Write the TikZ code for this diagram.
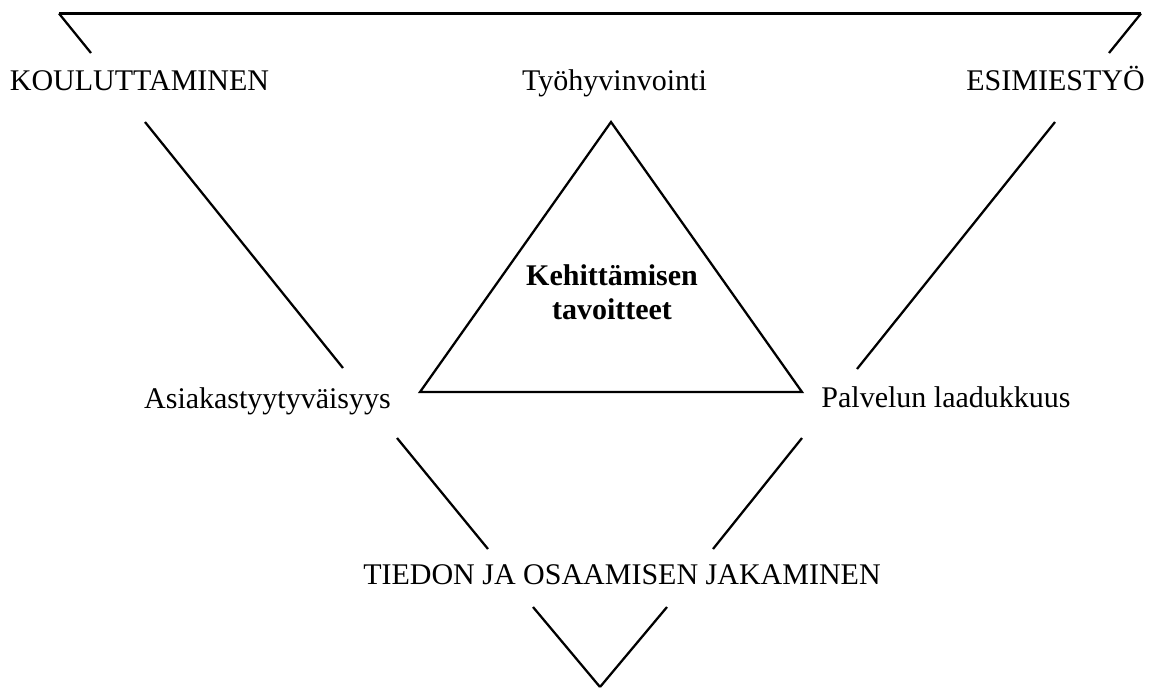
\documentclass[tikz,border=0pt]{standalone}
\usepackage{fontspec}
\setmainfont{Liberation Serif}
\begin{document}
\begin{tikzpicture}[x=0.75pt,y=-0.75pt,
  lbl/.style={font=\fontsize{22.5}{25.5}\selectfont, inner sep=0pt},
  goal/.style={font=\fontsize{22.5}{25.5}\selectfont\bfseries, inner sep=0pt, align=center},
  side/.style={line width=1.7pt}]
\useasboundingbox (0,0) rectangle (1160,687);

% labels on the large inverted triangle
\node[lbl,anchor=base] (kou) at (139.5,90) {KOULUTTAMINEN};
\node[lbl,anchor=base] (tyo) at (614.5,90) {Työhyvinvointi};
\node[lbl,anchor=base east] (esi) at (1145,90) {ESIMIESTYÖ};
\node[lbl,anchor=base] (asi) at (267.5,408) {Asiakastyytyväisyys};
\node[lbl,anchor=base] (pal) at (946,407) {Palvelun laadukkuus};
\node[lbl,anchor=base] (tie) at (622,584) {TIEDON JA OSAAMISEN JAKAMINEN};

% inner triangle with its title (base anchor sits on the last line)
\node[goal,anchor=base] (keh) at (612,319) {Kehittämisen\\tavoitteet};
\coordinate (ia) at (611,122);
\coordinate (il) at (420,392);
\coordinate (ir) at (802,392);
\draw[side] (ia) -- (il) -- (ir) -- cycle;

% corners of the large triangle
\coordinate (tl) at (59,13.5);
\coordinate (tr) at (1141,13.5);
\coordinate (bv) at (600,687);

% left side, broken around the labels
\coordinate (l1) at (91,53);
\coordinate (l2) at (145,122);
\coordinate (l3) at (343,368);
\coordinate (l4) at (397,438);
\coordinate (l5) at (488,549);
\coordinate (l6) at (533,607);

% right side, broken around the labels
\coordinate (r1) at (1109,53);
\coordinate (r2) at (1055,122);
\coordinate (r3) at (857,369);
\coordinate (r4) at (802,438);
\coordinate (r5) at (713,549);
\coordinate (r6) at (667,607);

\draw[side] (tl) -- (tr);
\draw[side] (tl) -- (l1);
\draw[side] (l2) -- (l3);
\draw[side] (l4) -- (l5);
\draw[side] (l6) -- (bv);
\draw[side] (tr) -- (r1);
\draw[side] (r2) -- (r3);
\draw[side] (r4) -- (r5);
\draw[side] (r6) -- (bv);
\end{tikzpicture}
\end{document}
